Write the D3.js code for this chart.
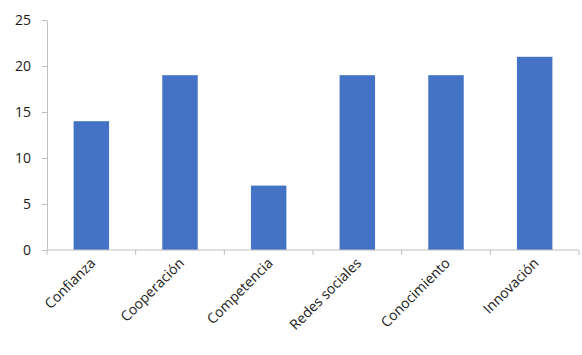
<!DOCTYPE html>
<html><head><meta charset="utf-8">
<script src="https://cdn.jsdelivr.net/npm/d3@7"></script>
<style>body{margin:0;background:#fff;} text{font-family:"Open Sans",sans-serif;}</style>
</head><body>
<svg id="c" width="582" height="355"></svg>
<script>
const categories = ["Confianza","Cooperación","Competencia","Redes sociales","Conocimiento","Innovación"];
const values = [14,19,7,19,19,21];
const yTicks = [0,5,10,15,20,25];

const svg = d3.select("#c");
const m = {left:47, right:3, top:20, bottom:105};
const W = 582, H = 355;
const x = d3.scaleBand().domain(categories).range([m.left, W-m.right]).paddingInner(0.6).paddingOuter(0.3);
const y = d3.scaleLinear().domain([0,25]).range([H-m.bottom, m.top]);
const axisColor = "#bfbfbf";

svg.selectAll("rect.bar").data(values).join("rect")
  .attr("class","bar")
  .attr("x",(d,i)=>x(categories[i]))
  .attr("width",x.bandwidth())
  .attr("y",d=>y(d))
  .attr("height",d=>y(0)-y(d))
  .attr("fill","#4472C4");

const ya = svg.append("g").attr("transform",`translate(${m.left},0)`)
  .call(d3.axisLeft(y).tickValues(yTicks).tickSize(5).tickSizeOuter(0).tickPadding(11));
ya.select(".domain").attr("stroke",axisColor);
ya.selectAll(".tick line").attr("stroke",axisColor);
ya.selectAll(".tick text").attr("font-size",14).attr("fill","#1a1a1a");

const step = x.step();
const xa = svg.append("g").attr("transform",`translate(0,${y(0)})`);
xa.append("line").attr("x1",m.left).attr("x2",W-m.right).attr("y1",0).attr("y2",0).attr("stroke",axisColor);
const edges = d3.range(categories.length+1).map(i=>m.left+i*step);
xa.selectAll("line.t").data(edges).join("line").attr("class","t")
  .attr("x1",d=>d).attr("x2",d=>d).attr("y1",0).attr("y2",5).attr("stroke",axisColor);
xa.selectAll("text.l").data(categories).join("text").attr("class","l")
  .attr("transform",d=>`translate(${x(d)+x.bandwidth()/2+5},${14}) rotate(-45)`)
  .attr("text-anchor","end").attr("font-size",14).attr("fill","#1a1a1a")
  .text(d=>d);
</script>
</body></html>
